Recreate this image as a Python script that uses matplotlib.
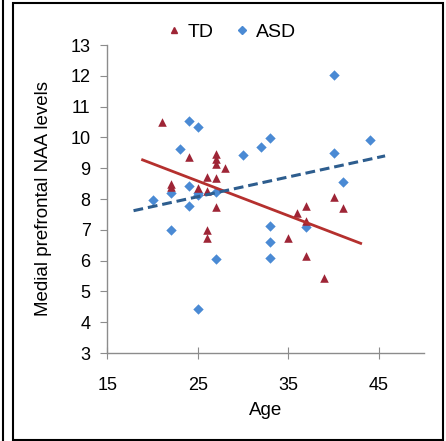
import matplotlib
matplotlib.use("Agg")
import matplotlib.pyplot as plt
from matplotlib.patches import Rectangle
from matplotlib.lines import Line2D

plt.rcParams["font.family"] = ["Liberation Sans", "DejaVu Sans"]

# values
td_age = [21, 24, 27, 27, 27, 28, 26, 27, 22, 22, 25, 26, 27, 26, 26,
          40, 37, 41, 36, 37, 35, 37, 39]
td_naa = [10.5, 9.35, 9.45, 9.3, 9.15, 9.0, 8.7, 8.67, 8.5, 8.4, 8.35, 8.26, 7.73, 6.99, 6.72,
          8.06, 7.77, 7.7, 7.54, 7.3, 6.72, 6.15, 5.42]

asd_age = [24, 25, 23, 30, 32, 33, 24, 22, 25, 25, 27, 20, 24, 22, 27, 25,
           33, 33, 33, 40, 44, 40, 41, 37]
asd_naa = [10.54, 10.33, 9.61, 9.43, 9.7, 9.97, 8.43, 8.18, 8.2, 8.13, 8.22, 7.97, 7.77, 6.99, 6.05, 4.43,
           7.12, 6.61, 6.07, 12.03, 9.9, 9.48, 8.54, 7.1]

# linear trend lines (end points as drawn in the reference)
td_trend_x = [18.9, 43.0]
td_trend_y = [9.27, 6.56]
asd_trend_x = [17.9, 45.7]
asd_trend_y = [7.62, 9.40]

x_ticks = [15, 25, 35, 45]
y_ticks = list(range(3, 14))

td_color = "#9e2536"
asd_color = "#4a8ad4"
td_line = "#b5302e"
asd_line = "#2d5d8e"
axis_grey = "#8c8c8c"

fig = plt.figure(figsize=(4.46, 4.41), dpi=100)
ax = fig.add_axes([107.3 / 446, 1 - 353 / 441, (424 - 107.3) / 446, (353 - 45) / 441])

ax.scatter(asd_age, asd_naa, marker="D", s=28, color=asd_color, linewidths=0, zorder=3)
ax.scatter(td_age, td_naa, marker="^", s=38, color=td_color, linewidths=0, zorder=3)
ax.plot(td_trend_x, td_trend_y, color=td_line, lw=2.0, zorder=4)
ax.plot(asd_trend_x, asd_trend_y, color=asd_line, lw=2.2, ls=(0, (3.2, 1.6)), zorder=4)

ax.set_xlim(15, 50)
ax.set_ylim(3, 13)
ax.set_xticks(x_ticks)
ax.set_yticks(y_ticks)
ax.tick_params(axis="y", direction="out", length=5, color=axis_grey, labelsize=13, pad=7)
ax.tick_params(axis="x", direction="inout", length=8, color=axis_grey, labelsize=13, pad=13)
for side in ("top", "right"):
    ax.spines[side].set_visible(False)
for side in ("left", "bottom"):
    ax.spines[side].set_color(axis_grey)
    ax.spines[side].set_linewidth(1.0)
ax.set_xlabel("Age", fontsize=13.5, labelpad=6)
ax.set_ylabel("Medial prefrontal NAA levels", fontsize=13.5, labelpad=13)

handles = [
    Line2D([], [], marker="^", ls="", color=td_color, markersize=5),
    Line2D([], [], marker="D", ls="", color=asd_color, markersize=3.8),
]
fig.legend(handles, ["TD", "ASD"], loc="center", bbox_to_anchor=(230 / 446, 1 - 32 / 441),
           ncol=2, frameon=False, fontsize=14, handletextpad=0.2, columnspacing=1.0,
           handlelength=1.0)

# panel frame (double line on the left)
fig.patches.append(Rectangle((12.5 / 446, 1.5 / 441), (443 - 12.5) / 446, (438.5 - 1.5) / 441,
                             transform=fig.transFigure, fill=False, edgecolor="black", lw=1.5))
fig.lines.append(Line2D([2.5 / 446, 2.5 / 446], [0, 1], transform=fig.transFigure,
                        color="black", lw=1.5))

fig.savefig("out.png", dpi=100)
